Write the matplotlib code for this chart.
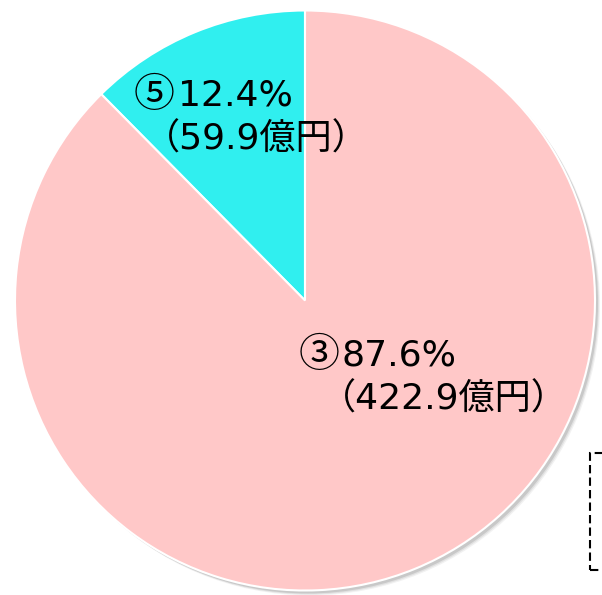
import matplotlib
matplotlib.use("Agg")
import matplotlib.pyplot as plt
from matplotlib.patches import Circle, Rectangle

plt.rcParams['font.family'] = ['DejaVu Sans', 'Noto Sans CJK JP']

labels = ["⑤", "③"]
shares = [12.4, 87.6]
amounts = [59.9, 422.9]
colors = ["#30EFEF", "#FFC8C8"]

W, H = 602, 595
fig = plt.figure(figsize=(W / 100, H / 100), dpi=100)
ax = fig.add_axes([0, 0, 1, 1])

cx, cy, r = 305, H - 300.5, 290

# soft shadow
for off, a in [(5, 0.10), (4, 0.15), (3, 0.25)]:
    ax.add_patch(Circle((cx + off, cy - off), r, color="#808080", alpha=a, lw=0, zorder=0))

ax.pie(shares, colors=colors, startangle=90, counterclock=True,
       center=(cx, cy), radius=r, frame=True,
       wedgeprops=dict(edgecolor="white", linewidth=1.5))
ax.set_xlim(0, W)
ax.set_ylim(0, H)
ax.set_aspect("equal")
ax.axis("off")

fs = 26
cjk = ['Noto Sans CJK JP']
# label positions in pixels from top-left: circled number, percent, amount line
pos = [((134, 107), (178, 105), (144, 150)),
       ((299, 367), (341, 365), (320, 410))]
for lab, s, amt, (pc, pp, pa) in zip(labels, shares, amounts, pos):
    ax.text(pc[0], H - pc[1], lab, fontsize=29.5, family=cjk, ha="left", va="baseline")
    ax.text(pp[0], H - pp[1], f"{s:.1f}%", fontsize=fs, ha="left", va="baseline")
    ax.text(pa[0], H - pa[1], f"（{amt:.1f}億円）", fontsize=fs, ha="left", va="baseline")

ax.add_patch(Rectangle((590, H - 570), 30, 117, fill=False, edgecolor="black",
                       linestyle=(0, (4, 2)), linewidth=1.5, clip_on=True))

fig.savefig("out.png", dpi=100)
